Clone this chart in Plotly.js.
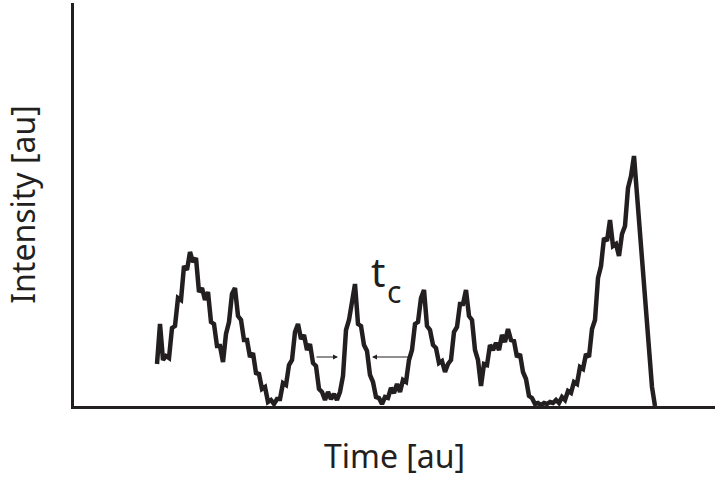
<!DOCTYPE html>
<html>
<head>
<meta charset="utf-8">
<script src="https://cdn.plot.ly/plotly-3.0.1.min.js"></script>
<style>html,body{margin:0;padding:0;background:#fff;}#chart{width:715px;height:480px;}</style>
</head>
<body>
<div id="chart"></div>
<script>
// Time samples (au)
const time = [83,86,89,92,95,98,101,104,107,110,113,116,119,122,125,128,131,134,137,140,143,146,149,152,155,158,161,164,167,170,173,176,179,182,185,188,191,194,197,200,203,206,209,212,215,218,221,224,227,230,233,236,239,242,245,248,251,254,257,260,263,266,269,272,275,278,281,284,287,290,293,296,299,302,305,308,311,314,317,320,323,326,329,332,335,338,341,344,347,350,353,356,359,362,365,368,371,374,377,380,383,386,389,392,395,398,401,404,407,410,413,416,419,422,425,428,431,434,437,440,443,446,449,452,455,458,461,464,467,470,473,476,479,482,485,488,491,494,497,500,503,506,509,512,515,518,521,524,527,530,533,536,539,542,545,548,551,554,557,560,563,566,569,572,575,578,581];
// Intensity (au)
const intensity = [42,82,46,50,48,78,80,108,106,140,136,154,144,148,114,118,106,114,84,82,60,60,44,72,84,112,118,90,86,66,66,49,53,33,32,17,19,4,6,2,7,7,23,21,41,46,74,82,67,71,56,62,43,40,17,14,6,14,7,12,6,14,30,76,86,106,122,82,80,61,55,31,24,9,8,2,9,8,18,13,22,14,26,24,46,56,82,84,108,116,80,76,61,58,43,45,34,42,46,74,79,102,102,116,90,86,56,46,20,42,41,61,56,63,56,71,64,77,66,65,49,52,34,27,10,8,2,3,1,3,2,4,3,6,3,9,6,15,13,24,22,39,37,52,49,77,86,128,140,168,165,186,160,162,150,172,180,218,230,250,210,176,130,96,44,19,0];
// t_c interval arrows (time positions)
const arrowTails = [241, 338];
const arrowHeads = [264, 298];
const arrowLevel = 49;

const ink = '#231f20';
const data = [{
  x: time, y: intensity, type: 'scatter', mode: 'lines',
  line: {color: ink, width: 4.5, shape: 'linear'}, hoverinfo: 'skip'
}];

const annotations = [
  {x: arrowHeads[0], y: arrowLevel, ax: arrowTails[0], ay: arrowLevel, xref: 'x', yref: 'y', axref: 'x', ayref: 'y',
   text: '', showarrow: true, arrowhead: 2, arrowsize: 1, arrowwidth: 1, arrowcolor: ink},
  {x: arrowHeads[1], y: arrowLevel, ax: arrowTails[1], ay: arrowLevel, xref: 'x', yref: 'y', axref: 'x', ayref: 'y',
   text: '', showarrow: true, arrowhead: 2, arrowsize: 1, arrowwidth: 1, arrowcolor: ink},
  {x: 304, y: 135, xref: 'x', yref: 'y', text: 't', showarrow: false,
   font: {family: 'Noto Sans, sans-serif', size: 40, color: ink}},
  {x: 320, y: 115, xref: 'x', yref: 'y', text: 'c', showarrow: false,
   font: {family: 'Noto Sans, sans-serif', size: 30, color: ink}}
];

const layout = {
  width: 715, height: 480,
  margin: {l: 74, r: 0, t: 3, b: 74},
  paper_bgcolor: '#fff', plot_bgcolor: '#fff',
  showlegend: false,
  xaxis: {range: [0, 641], showgrid: false, zeroline: false, showticklabels: false, ticks: '',
    showline: true, linewidth: 3, linecolor: ink,
    title: {text: 'Time [au]', standoff: 38, font: {family: 'Noto Sans, sans-serif', size: 32, color: ink}}},
  yaxis: {range: [0, 403], showgrid: false, zeroline: false, showticklabels: false, ticks: '',
    showline: true, linewidth: 3, linecolor: ink,
    title: {text: 'Intensity [au]', standoff: 26, font: {family: 'Noto Sans, sans-serif', size: 32, color: ink}}},
  annotations: annotations
};

Plotly.newPlot('chart', data, layout, {staticPlot: true, displayModeBar: false});
</script>
</body>
</html>
